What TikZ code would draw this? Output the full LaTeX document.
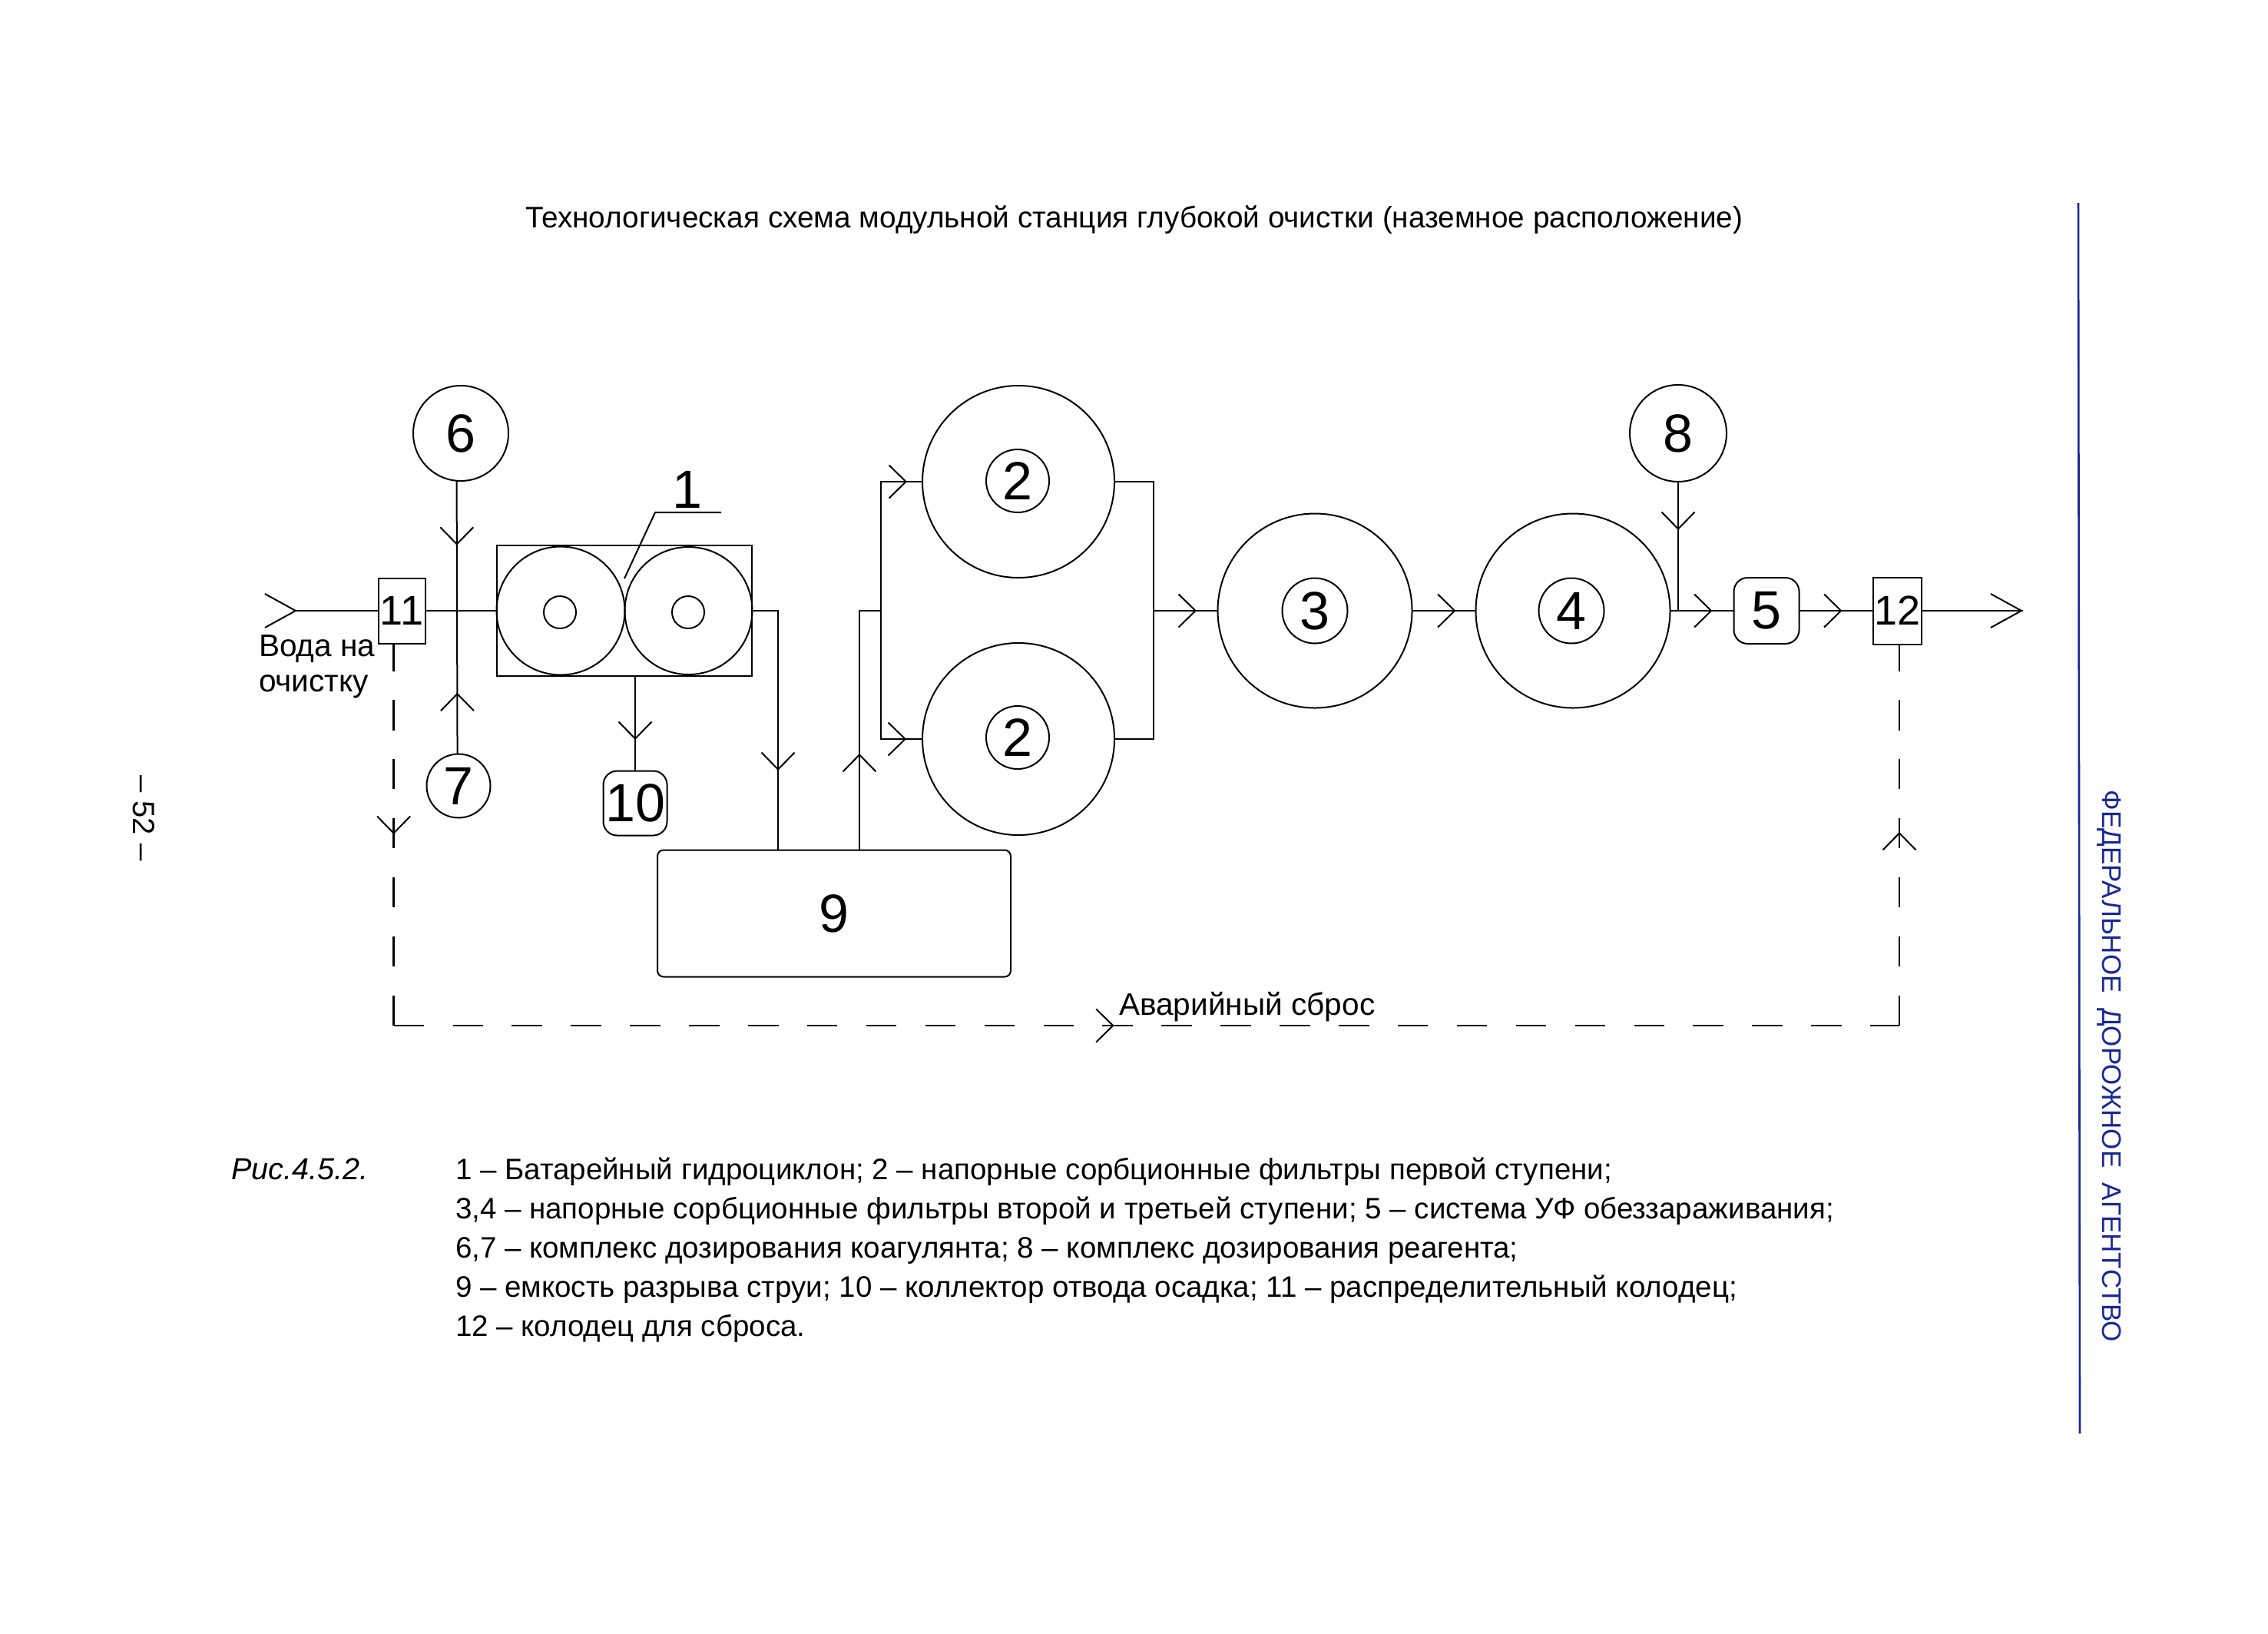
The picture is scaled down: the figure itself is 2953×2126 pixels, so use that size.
\documentclass[tikz,border=0pt]{standalone}
\usepackage{fontspec}
\setmainfont{Liberation Sans}
\usetikzlibrary{arrows.meta,decorations.markings}
\definecolor{agencyblue}{RGB}{24,40,150}
\tikzset{
  chev/.tip={Straight Barb[length=11pt,width=21.5pt,line width=1pt]},
  bigchev/.tip={Straight Barb[length=20pt,width=22pt,line width=1pt]},
  flow/.style={postaction={decorate,decoration={markings,mark=at position #1 with {\arrow{chev}}}}},
  bigflow/.style={postaction={decorate,decoration={markings,mark=at position #1 with {\arrow{bigchev}}}}},
  ring/.style={draw,circle,inner sep=0pt,outer sep=0pt,minimum size=#1},
  boxed/.style={draw,rectangle,inner sep=0pt,outer sep=0pt,minimum width=#1},
  dig/.style={font=\fontsize{35}{35}\selectfont},
  dig2/.style={font=\fontsize{27}{27}\selectfont},
  labeltext/.style={font=\fontsize{20.3}{24}\selectfont,anchor=base west,inner sep=0pt},
  captext/.style={font=\fontsize{19.25}{24}\selectfont,anchor=base west,inner sep=0pt},
  titletext/.style={font=\fontsize{19.36}{24}\selectfont,anchor=base west,inner sep=0pt},
  figtext/.style={font=\fontsize{19.8}{24}\itshape\selectfont,anchor=base west,inner sep=0pt},
  emerg/.style={line width=1.2pt,dash pattern=on 19.75pt off 18.7pt},
  blueline/.style={draw=agencyblue,line width=1.3pt}
}
\begin{document}
\begin{tikzpicture}[x=0.5pt,y=-0.5pt,line width=1pt]
\useasboundingbox (0,0) rectangle (2953,2126);
\fill[white] (0,0) rectangle (2953,2126);

% texts
\node[titletext] (title) at (683,296) {Технологическая схема модульной станция глубокой очистки (наземное расположение)};
\node[figtext] (fig) at (300,1535) {Рис.4.5.2.};
\node[captext] (c1) at (592,1535) {1 – Батарейный гидроциклон; 2 – напорные сорбционные фильтры первой ступени;};
\node[captext] (c2) at (592,1586) {3,4 – напорные сорбционные фильтры второй и третьей ступени; 5 – система УФ обеззараживания;};
\node[captext] (c3) at (592,1637) {6,7 – комплекс дозирования коагулянта; 8 – комплекс дозирования реагента;};
\node[captext] (c4) at (592,1688) {9 – емкость разрыва струи; 10 – коллектор отвода осадка; 11 – распределительный колодец;};
\node[captext] (c5) at (592,1739) {12 – колодец для сброса.};
\node[labeltext] (water1) at (336,854) {Вода на};
\node[labeltext] (water2) at (336,900) {очистку};
\node[labeltext] (avar) at (1456,1321) {Аварийный сброс};
\node[rotate=-90,font=\fontsize{20}{24}\selectfont,inner sep=0pt] (page) at (187,1065) {– 52 –};
\node[rotate=-90,font=\fontsize{17.5}{20}\selectfont,text=agencyblue,inner sep=0pt] (agency) at (2746,1388) {ФЕДЕРАЛЬНОЕ\ \ ДОРОЖНОЕ\ \ АГЕНТСТВО};
\coordinate (rt) at (2706,264);
\coordinate (rb) at (2708,1866);
\draw[blueline] (rt) -- (rb);

% nodes
\node[ring=62pt,dig] (n6) at (600,564) {6};
\node[ring=41.5pt,dig] (n7) at (597,1023) {7};
\node[ring=63pt,dig] (n8) at (2185,564) {8};
\node[boxed=30.5pt,minimum height=42.5pt,dig2] (n11) at (523,795) {11};
\node[boxed=31.5pt,minimum height=43.5pt,dig2] (n12) at (2470,795) {12};
\node[boxed=42.5pt,minimum height=43pt,rounded corners=9pt,dig] (n5) at (2300,795) {5};
\node[boxed=41.5pt,minimum height=42pt,rounded corners=9pt,dig] (n10) at (827,1045.5) {10};
\node[boxed=230pt,minimum height=82.5pt,rounded corners=4pt,dig] (n9) at (1086,1189) {9};

\node[boxed=166pt,minimum height=85pt] (cyc) at (813,795) {};
\node[ring=83.5pt] (cycL) at (730,795) {};
\node[ring=83pt] (cycR) at (896.5,795) {};
\node[ring=21pt] (holeL) at (729,797) {};
\node[ring=21pt] (holeR) at (896,797) {};
\node[dig,inner sep=0pt] (lab1) at (895,637) {1};

\node[ring=125pt] (n2a) at (1326,627) {};
\node[ring=125pt] (n2b) at (1326,962) {};
\node[ring=41pt,dig] (n2at) at (1325,626) {2};
\node[ring=41pt,dig] (n2bt) at (1325,960) {2};
\node[ring=126.5pt] (n3) at (1712,795) {};
\node[ring=42.5pt,dig] (n3t) at (1712,795) {3};
\node[ring=126.5pt] (n4) at (2048,795) {};
\node[ring=42.5pt,dig] (n4t) at (2046,795) {4};

% helper points
\coordinate (inlet) at (386,795);
\coordinate (outlet) at (2634,795);
\coordinate (d9) at (1013,1106);
\coordinate (u9) at (1119,1106);
\coordinate (j1) at (1147,795);
\coordinate (j2) at (1501.5,795);
\coordinate (j3) at (2185,795);
\coordinate (lead0) at (813,753);
\coordinate (lead1) at (853,667);
\coordinate (lead2) at (939,667);
\coordinate (corner1) at (512.6,1335);
\coordinate (corner2) at (2473,1335);
\coordinate (c11) at (512.6,838);
\coordinate (c12) at (2473,839);

% connectors
\draw[bigflow=0.5pt] (inlet) -- (n11.west);
\draw (n11.east) -- (cycL.west);
\draw[flow=42pt,postaction={decorate,decoration={markings,mark=at position 138pt with {\arrowreversed{chev}}}}] (n6.265) -- (n7.92);
\draw[flow=41.5pt] (n10.north |- cyc.south) -- (n10.north);
\draw (lead0) -- (lead1) -- (lead2);
\draw[flow=120.75pt] (cycR.east) -| (d9);
\draw[flow=62.5pt] (u9) |- (j1);
\draw[flow=101pt] (j1) |- (n2a.west);
\draw[flow=100pt] (j1) |- (n2b.west);
\draw (n2a.east) -| (j2);
\draw (n2b.east) -| (j2);
\draw[flow=28.25pt] (j2) -- (n3.west);
\draw[flow=28.5pt] (n3.east) -- (n4.west);
\draw[flow=27.5pt] (n4.east) -- (n5.west);
\draw[flow=31.5pt] (n8.south) -- (j3);
\draw[flow=28pt] (n5.east) -- (n12.west);
\draw[bigflow=1] (n12.east) -- (outlet);
\draw[emerg,dash phase=1.95pt,flow=124pt] (c11) -- (corner1);
\draw[emerg,flow=469pt] (corner1) -- (corner2);
\draw[emerg,flow=126pt] (corner2) -- (c12);
\end{tikzpicture}
\end{document}
